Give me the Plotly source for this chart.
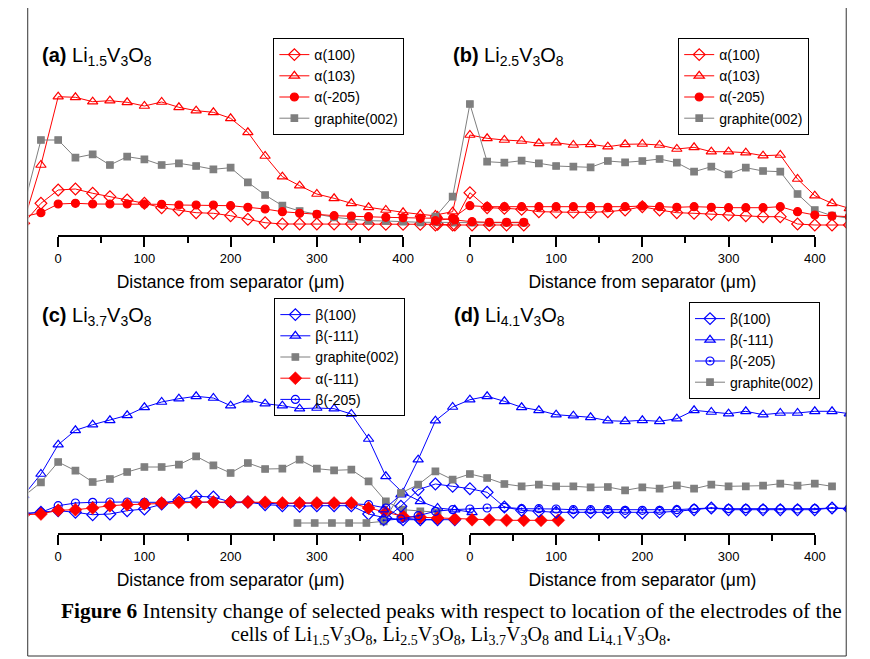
import plotly.graph_objects as go

# page is 870x659; the browser puts the figure 8 px in from the top-left corner
PAGE_W, PAGE_H = 870, 659
OFF = 8
W, H = PAGE_W - OFF, PAGE_H - OFF

# ---------------- data (intensity in arbitrary units) ----------------
# panel (a) Li1.5V3O8
dist_a = [-40, -20, 0, 20, 40, 60, 80, 100, 120, 140, 160, 180, 200, 220, 240,
          260, 280, 300, 320, 340, 360, 380, 400, 420, 440, 460, 480, 500, 520, 540]
dist_a103 = [-40, -20, 0, 20, 40, 60, 80, 100, 120, 140, 160, 180, 200, 220, 240,
             260, 280, 300, 320, 340, 360, 380, 400, 420, 440]
a_alpha100 = [11.7, 31.7, 45, 46, 41.7, 38.3, 35, 31.7, 27.3, 25, 22.3, 21.7, 19.3, 15.7, 12.3,
              11, 11, 11, 11, 11, 10.7, 10.7, 10.7, 10.7, 10.7, 10, 10, 10, 10, 10]
a_alpha103 = [13.3, 70, 138.3, 137.7, 133.3, 134.3, 132.7, 129, 133, 127.7, 124.3, 122.7, 116.7,
              102.7, 79, 58.3, 49.3, 41, 36.7, 31.7, 27.7, 25, 22.7, 20.7, 19]
a_alpha205 = [18.3, 22.3, 31, 31.7, 31, 31, 31, 31, 30.7, 30, 30, 30, 29.3, 27.7, 26,
              23.3, 21.7, 20.7, 19.3, 19, 18.3, 17.7, 17.3, 16.7, 16.7, 15, 13.3, 12.7, 12.7, 12.7]
a_graphite = [28.3, 95, 95, 77.3, 80.7, 70, 78.3, 75.7, 70, 71.7, 69, 65.7, 67.3, 52.7, 40,
              29.3, 24, 20.7, 17.7, 16, 14.3, 14, 13.3, 12.7, 12.7, 12.3, 12.3, 12.3, 12.3, 12.3]

# panel (b) Li2.5V3O8
dist_b = [-40, -20, 0, 20, 40, 60, 80, 100, 120, 140, 160, 180, 200, 220, 240,
          260, 280, 300, 320, 340, 360, 380, 400, 420, 440]
b_alpha100 = [10, 10, 42.3, 27.3, 26.7, 25.7, 23.3, 22.7, 22.7, 22.7, 23.3, 25, 28.3, 25, 22.3,
              21.7, 20.7, 20, 19.3, 18.3, 18.3, 11, 10, 10, 10]
b_alpha103 = [20, 23.3, 100, 96.7, 95, 94, 91.7, 92.3, 90, 90.7, 88.3, 90.7, 91, 90, 86,
              87.7, 83.3, 83.3, 82.3, 79.3, 80, 56, 39.3, 31.7, 26.7]
b_alpha205 = [14.3, 16.7, 29.3, 28.3, 28.3, 28.3, 28.3, 28.3, 28.3, 28.3, 27.7, 28.3, 29, 28.3, 27.7,
              28.3, 27.7, 27.3, 27.3, 27.3, 28.3, 23.3, 20, 19, 18.3]
b_graphite = [18.3, 38.3, 131, 73.3, 72.3, 74.3, 71.7, 69, 68.3, 67.7, 74, 72.7, 74, 76, 72.3,
              63.3, 68.3, 60.7, 67.3, 64, 63.3, 41, 25, 19.3, 16.7]

# panel (c) Li3.7V3O8
dist_c = [-40, -20, 0, 20, 40, 60, 80, 100, 120, 140, 160, 180, 200, 220, 240,
          260, 280, 300, 320, 340, 360, 380, 400, 420, 440, 460, 480, 500, 520, 540, 560, 580]
c_beta100 = [19.3, 20.7, 22.3, 20.7, 18.3, 19, 22.3, 24, 29, 33.3, 36.7, 36, 31, 31, 28.3,
             27.3, 26.7, 27.3, 27.3, 27.3, 19, 15, 13.3, 13.3, 13.3, 13.3]
c_beta111 = [37.7, 59, 88.3, 102.7, 108.3, 112.7, 117.7, 125.7, 131, 134.3, 136.7, 135, 127.3, 133.3, 129.3,
             127.3, 124.3, 125, 124.3, 119, 94, 56.7, 40, 31.7, 25, 23.3, 20.7]
c_graphite = [36.7, 50.7, 71, 62.3, 51, 54, 61, 66, 66, 68.3, 76.7, 67.7, 60, 70, 64,
              64.3, 73.3, 64.3, 62.7, 63.3, 51.7, 31.7, 23.3, 21.7, 20.7]
c_alpha111 = [18.3, 19, 22.7, 23.3, 25, 27.3, 28.3, 29, 30, 30.7, 30.7, 31, 31, 31, 30.7,
              30, 30, 30, 30, 30, 25, 20.7, 16.7, 15.7, 15, 14, 13.3, 13.3, 12.7, 12.7, 12.7, 12.7]
c_beta205 = [19.3, 20.7, 27.3, 30, 30.7, 31, 31, 30.7, 30.7, 31.7, 30.7, 31, 30, 30.7, 30,
             29, 30, 30, 30, 29.3, 28.3, 25, 15, 13.3, 13.3]

# panel (d) Li4.1V3O8
dist_d = [-100, -80, -60, -40, -20, 0, 20, 40, 60, 80, 100, 120, 140, 160, 180, 200,
          220, 240, 260, 280, 300, 320, 340, 360, 380, 400, 420, 440]
dist_d_graphite = [-200, -180, -160, -140, -120, -100, -80, -60, -40, -20, 0, 20, 40, 60, 80, 100,
                   120, 140, 160, 180, 200, 220, 240, 260, 280, 300, 320, 340, 360, 380, 400, 420]
d_beta100 = [13.3, 26.7, 43.3, 49, 46.7, 44.3, 40.7, 26, 22.7, 21.7, 20.7, 20.7, 20.7, 20.7, 20.7, 20,
             20.7, 21.7, 23.3, 25, 23.3, 23.3, 23.3, 23.3, 23.3, 23.3, 25, 24]
d_beta111 = [23.3, 38.3, 73.3, 112.3, 126, 133.3, 136.7, 131.7, 125.7, 122.7, 118.3, 117.3, 115.7, 112.3,
             111.7, 112.7, 111.7, 114.3, 122.7, 121, 119.3, 121.7, 118.3, 120, 120, 121.7, 121.7, 119.3]
d_beta205 = [12.7, 14, 17.3, 21.7, 23.3, 24, 25, 25.7, 24.3, 24.3, 24, 23.3, 23.3, 23.3, 22.7, 22.7,
             22.7, 23.3, 24.3, 25, 24.3, 24.3, 24, 24, 24, 24.3, 25, 24.7]
d_graphite = [10, 10, 10, 10, 10, 11.7, 40, 48.3, 61.7, 53.3, 59, 55, 49, 46.7, 48.3, 46.7,
              46.7, 45.7, 46, 42.7, 45.7, 44.3, 47.7, 44.3, 48.3, 46.7, 46.7, 47.3, 49.3, 47.3, 49.3, 46.7]

tick_vals = [0, 100, 200, 300, 400]
tick_text = ["0", "100", "200", "300", "400"]
minor_vals = [50, 150, 250, 350]

# ---------------- layout geometry (page pixels) ----------------
CLIP_L, CLIP_R = 25, 857
SCALE = 351 / 400.0          # px per micrometre
ZERO_LEFT, ZERO_RIGHT = 55, 474
TOP_AXIS, TOP_TOP = 235, 30
BOT_AXIS, BOT_TOP = 533, 295

RED = "#FF0000"
BLUE = "#0000FF"
GRAY = "#7F7F7F"
SANS = "Liberation Sans"


def px_x(p):
    return (p - OFF) / W


def px_y(p):
    return 1 - (p - OFF) / H


def data_xrange(zero_px):
    return [(CLIP_L - zero_px) / SCALE, (CLIP_R - zero_px) / SCALE]


fig = go.Figure()


def add(x, y, name, xa, ya, legend, color, symbol, size, rank, lw=1.0, mlw=1.2):
    fig.add_trace(go.Scatter(
        x=x, y=y, name=name,
        xaxis=xa, yaxis=ya, legend=legend, legendrank=rank,
        mode="lines+markers",
        line=dict(color=color, width=lw),
        marker=dict(symbol=symbol, size=size, color=color,
                    line=dict(color=color, width=mlw)),
        cliponaxis=True, hoverinfo="skip"))


# panel (a)
add(dist_a, a_alpha100, "α(100)", "x", "y", "legend", RED, "diamond-open", 9, 1)
add(dist_a103, a_alpha103, "α(103)", "x", "y", "legend", RED, "triangle-up-open", 9, 2)
add(dist_a, a_graphite, "graphite(002)", "x", "y", "legend", GRAY, "square", 6.5, 4)
add(dist_a, a_alpha205, "α(-205)", "x", "y", "legend", RED, "circle", 8, 3)

# panel (b)
add(dist_b, b_alpha100, "α(100)", "x2", "y", "legend2", RED, "diamond-open", 9, 1)
add(dist_b, b_alpha103, "α(103)", "x2", "y", "legend2", RED, "triangle-up-open", 9, 2)
add(dist_b, b_graphite, "graphite(002)", "x2", "y", "legend2", GRAY, "square", 6.5, 4)
add(dist_b, b_alpha205, "α(-205)", "x2", "y", "legend2", RED, "circle", 8, 3)

# panel (c)
add(dist_c[:len(c_beta100)], c_beta100, "β(100)", "x3", "y2", "legend3", BLUE, "diamond-open", 9, 1)
add(dist_c[:len(c_beta111)], c_beta111, "β(-111)", "x3", "y2", "legend3", BLUE, "triangle-up-open", 9, 2)
add(dist_c[:len(c_graphite)], c_graphite, "graphite(002)", "x3", "y2", "legend3", GRAY, "square", 6.5, 3)
add(dist_c[:len(c_beta205)], c_beta205, "β(-205)", "x3", "y2", "legend3", BLUE, "circle-open-dot", 8, 5)
add(dist_c[:len(c_alpha111)], c_alpha111, "α(-111)", "x3", "y2", "legend3", RED, "diamond", 10, 4, mlw=0.5)

# panel (d)
add(dist_d, d_beta100, "β(100)", "x4", "y2", "legend4", BLUE, "diamond-open", 9, 1)
add(dist_d, d_beta111, "β(-111)", "x4", "y2", "legend4", BLUE, "triangle-up-open", 9, 2)
add(dist_d_graphite, d_graphite, "graphite(002)", "x4", "y2", "legend4", GRAY, "square", 6.5, 4)
add(dist_d, d_beta205, "β(-205)", "x4", "y2", "legend4", BLUE, "circle-open-dot", 8, 3)

# empty traces so that the four visible distance axes get drawn
for xa, ya in (("x5", "y"), ("x6", "y"), ("x7", "y2"), ("x8", "y2")):
    fig.add_trace(go.Scatter(x=[], y=[], xaxis=xa, yaxis=ya, showlegend=False,
                             hoverinfo="skip", mode="markers"))

full_dom = [px_x(CLIP_L), px_x(CLIP_R)]
hidden = dict(visible=False, showgrid=False, zeroline=False, fixedrange=True)

layout = dict(
    width=W, height=H,
    margin=dict(l=0, r=0, t=0, b=0),
    paper_bgcolor="white", plot_bgcolor="rgba(0,0,0,0)",
    font=dict(family=SANS, color="black", size=14),
    xaxis=dict(domain=full_dom, range=data_xrange(ZERO_LEFT), anchor="y", **hidden),
    xaxis2=dict(domain=full_dom, range=data_xrange(ZERO_RIGHT), anchor="y", **hidden),
    xaxis3=dict(domain=full_dom, range=data_xrange(ZERO_LEFT), anchor="y2", **hidden),
    xaxis4=dict(domain=full_dom, range=data_xrange(ZERO_RIGHT), anchor="y2", **hidden),
    yaxis=dict(domain=[px_y(TOP_AXIS), px_y(TOP_TOP)], range=[0, TOP_AXIS - TOP_TOP], anchor="x", **hidden),
    yaxis2=dict(domain=[px_y(BOT_AXIS), px_y(BOT_TOP)], range=[0, BOT_AXIS - BOT_TOP], anchor="x3", **hidden),
)


def vis_axis(zero_px, anchor):
    return dict(
        domain=[px_x(zero_px), px_x(zero_px + 400 * SCALE)],
        range=[0, 400], anchor=anchor,
        showline=True, linecolor="black", linewidth=2,
        ticks="outside", ticklen=10, tickwidth=2, tickcolor="black",
        tickmode="array", tickvals=tick_vals, ticktext=tick_text,
        minor=dict(ticks="outside", ticklen=6, tickwidth=2, tickcolor="black",
                   tickmode="array", tickvals=minor_vals),
        tickfont=dict(family=SANS, size=13, color="black"),
        showgrid=False, zeroline=False, fixedrange=True,
        title=dict(text="Distance from separator (μm)", font=dict(family=SANS, size=17.5, color="black"),
                   standoff=11),
    )


layout["xaxis5"] = vis_axis(ZERO_LEFT, "y")
layout["xaxis6"] = vis_axis(ZERO_RIGHT, "y")
layout["xaxis7"] = vis_axis(ZERO_LEFT, "y2")
layout["xaxis8"] = vis_axis(ZERO_RIGHT, "y2")


def legend_box(left, top):
    return dict(x=px_x(left), y=px_y(top), xanchor="left", yanchor="top",
                bgcolor="rgba(255,255,255,0)", bordercolor="black", borderwidth=1,
                font=dict(family=SANS, size=14, color="black"), itemwidth=30,
                tracegroupgap=0)


layout["legend"] = legend_box(274, 38)
layout["legend2"] = legend_box(686, 38)
layout["legend3"] = legend_box(275, 298)
layout["legend4"] = legend_box(697, 302)

fig.update_layout(**layout)

titles = [
    ("<b>(a)</b> Li<sub>1.5</sub>V<sub>3</sub>O<sub>8</sub>", 36, 56),
    ("<b>(b)</b> Li<sub>2.5</sub>V<sub>3</sub>O<sub>8</sub>", 455, 56),
    ("<b>(c)</b> Li<sub>3.7</sub>V<sub>3</sub>O<sub>8</sub>", 36, 316),
    ("<b>(d)</b> Li<sub>4.1</sub>V<sub>3</sub>O<sub>8</sub>", 456, 316),
]
for txt, xp, yp in titles:
    fig.add_annotation(text=txt, xref="paper", yref="paper", x=px_x(xp), y=px_y(yp),
                       xanchor="left", yanchor="middle", showarrow=False,
                       font=dict(family=SANS, size=20, color="black"))

caption_lines = [
    ("<b>Figure 6</b> Intensity change of selected peaks with respect to location of the electrodes of the",
     611, 21.4),
    ("cells of Li<sub>1.5</sub>V<sub>3</sub>O<sub>8</sub>, Li<sub>2.5</sub>V<sub>3</sub>O<sub>8</sub>, "
     "Li<sub>3.7</sub>V<sub>3</sub>O<sub>8</sub> and Li<sub>4.1</sub>V<sub>3</sub>O<sub>8</sub>.", 635, 20),
]
for txt, yp, fs in caption_lines:
    fig.add_annotation(text=txt, xref="paper", yref="paper", x=px_x(455), y=px_y(yp),
                       xanchor="center", yanchor="middle", showarrow=False, align="center",
                       font=dict(family="Liberation Serif", size=fs, color="black"))

# outer frame of the figure
frame = dict(color="#333333", width=1)
fig.add_shape(type="line", xref="paper", yref="paper", x0=px_x(24), x1=px_x(24), y0=px_y(656), y1=1, line=frame)
fig.add_shape(type="line", xref="paper", yref="paper", x0=px_x(857), x1=px_x(857), y0=px_y(656), y1=1, line=frame)
fig.add_shape(type="line", xref="paper", yref="paper", x0=px_x(24), x1=px_x(857), y0=px_y(656), y1=px_y(656), line=frame)

fig.write_html("out.html")
